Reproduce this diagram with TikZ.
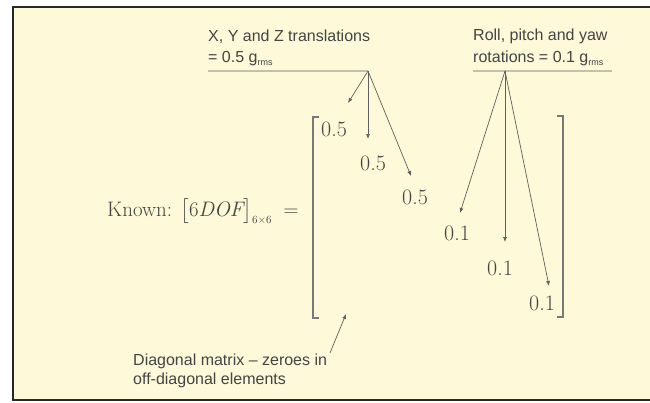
\documentclass[tikz,border=0pt]{standalone}
\usepackage{amsmath}
\usepackage{fontspec}
\newfontfamily\lblfont{Liberation Sans}
\usetikzlibrary{arrows.meta}
\definecolor{bgyellow}{RGB}{254,249,216}
\definecolor{framecol}{RGB}{40,40,40}
\definecolor{txt}{RGB}{68,68,68}
\definecolor{lncol}{RGB}{95,95,95}
\definecolor{ulcol}{RGB}{196,192,172}
\definecolor{brcol}{RGB}{120,120,120}
\newcommand{\rmsub}{\raisebox{-3pt}{\fontsize{9}{9}\selectfont rms}}
\begin{document}
\begin{tikzpicture}[x=1pt,y=-1pt,
  lbl/.style={font=\lblfont\fontsize{16}{21}\selectfont, text=txt, inner sep=0, anchor=base west},
  entry/.style={font=\fontsize{22}{26}\selectfont, text=txt, inner sep=0},
  ptr/.style={draw=lncol, line width=0.7pt, -{Latex[length=5pt,width=4pt]}},
  uline/.style={draw=ulcol, line width=1.6pt},
  brk/.style={draw=brcol, line width=1.8pt}]
\useasboundingbox (0,0) rectangle (650,402);
\fill[white] (0,0) rectangle (650,402);
\draw[draw=framecol, fill=bgyellow, line width=2.5pt] (13,7) rectangle (680,400);

% labels
\node[lbl] (tl1) at (208,41) {X, Y and Z translations};
\node[lbl] (tl2) at (208,62) {= 0.5 g\rmsub};
\node[lbl] (rl1) at (473,40) {Roll, pitch and yaw};
\node[lbl] (rl2) at (473,62) {rotations = 0.1 g\rmsub};

\coordinate (ulTs) at (208,71);
\coordinate (apexT) at (368,71);
\coordinate (ulRs) at (473,71);
\coordinate (ulRe) at (612,71);
\coordinate (apexR) at (505,71);
\draw[uline] (ulTs) -- (apexT);
\draw[uline] (ulRs) -- (ulRe);

% left side
\node[font=\fontsize{21}{25}\selectfont, text=txt, inner sep=0, anchor=base west] (known) at (107,216)
  {Known: $\bigl[6\mathit{DOF}\bigr]_{\scriptscriptstyle 6\times 6}\;=$};

% brackets
\draw[brk] (319,117) -- (313,117) -- (313,318) -- (319,318);
\draw[brk] (557,116) -- (563,116) -- (563,317) -- (557,317);

% entries
\node[entry] (e1) at (334,129) {0.5};
\node[entry] (e2) at (373,163) {0.5};
\node[entry] (e3) at (415,197) {0.5};
\node[entry] (e4) at (457,233) {0.1};
\node[entry] (e5) at (500,268) {0.1};
\node[entry] (e6) at (542,303) {0.1};

% arrow tips
\coordinate (t1) at (348,103);
\coordinate (t2) at (368,139);
\coordinate (t3) at (411,176);
\coordinate (t4) at (460,213);
\coordinate (t5) at (505,242);
\coordinate (t6) at (549,286);
\draw[ptr] (apexT) -- (t1);
\draw[ptr] (apexT) -- (t2);
\draw[ptr] (apexT) -- (t3);
\draw[ptr] (apexR) -- (t4);
\draw[ptr] (apexR) -- (t5);
\draw[ptr] (apexR) -- (t6);

% bottom note
\node[lbl] (bl1) at (133,365) {Diagonal matrix – zeroes in};
\node[lbl] (bl2) at (133,384) {off-diagonal elements};
\coordinate (nb) at (330,353);
\coordinate (nt) at (346,314);
\draw[ptr] (nb) -- (nt);
\end{tikzpicture}
\end{document}
